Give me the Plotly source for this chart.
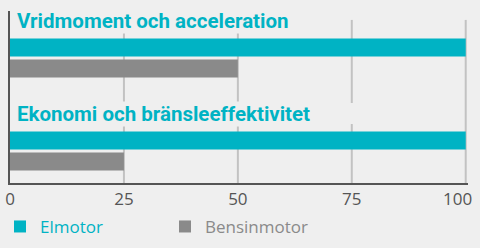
import plotly.graph_objects as go

categories = ["Vridmoment och acceleration", "Ekonomi och bränsleeffektivitet"]
series_names = ["Elmotor", "Bensinmotor"]
elmotor = [100, 100]
bensinmotor = [50, 25]
tick_vals = [0, 25, 50, 75, 100]

CYAN = "#00b3c4"
GRAY = "#8a8a8a"
BG = "#efefef"
AXIS = "#555555"
GRID = "#c2c2c2"

fig = go.Figure()
for name, vals, col in zip(series_names, [elmotor, bensinmotor], [CYAN, GRAY]):
    fig.add_trace(go.Bar(
        y=categories, x=vals, orientation="h",
        name=f'<span style="color:{col}">{name}</span>',
        marker=dict(color=col, line=dict(width=0)),
        hoverinfo="skip",
    ))

shapes = []
for v in tick_vals[1:]:
    if v == tick_vals[-1]:
        segs = [(-0.409, 1.344)]
    else:
        segs = [(-0.409, 0.484), (0.71, 1.344)]
    for y0, y1 in segs:
        shapes.append(dict(type="line", xref="x", yref="y", x0=v, x1=v, y0=y0, y1=y1,
                           line=dict(color=GRID, width=2), layer="below"))

annotations = []
for c in categories:
    annotations.append(dict(
        x=0, y=c, xref="x", yref="y", yshift=37, xshift=6,
        text=f"<b>{c}</b>", showarrow=False, xanchor="left", yanchor="middle",
        font=dict(family="Roboto", size=20.5, color=CYAN),
        bgcolor=BG, borderpad=0,
    ))
# last tick label kept inside the page, as in the reference
annotations.append(dict(
    x=tick_vals[-1], y=0, xref="x", yref="paper", xshift=-8, yshift=-15,
    text=str(tick_vals[-1]), showarrow=False, xanchor="center", yanchor="middle",
    font=dict(family="Open Sans", size=17, color=AXIS),
))

fig.update_layout(
    width=480, height=248,
    margin=dict(l=10, r=12, t=11, b=65, autoexpand=False),
    paper_bgcolor=BG, plot_bgcolor=BG,
    barmode="group", bargap=0.548, bargroupgap=0.143,
    shapes=shapes, annotations=annotations,
    showlegend=True,
    legend=dict(orientation="h", xref="container", yref="container",
                x=0, y=0.085, xanchor="left", yanchor="middle",
                font=dict(family="Open Sans", size=17, color=GRAY),
                entrywidth=120, entrywidthmode="pixels",
                bgcolor="rgba(0,0,0,0)", itemclick=False),
    font=dict(family="Open Sans", size=17, color=AXIS),
)
fig.update_xaxes(range=[0, 100.5], tickvals=tick_vals[:-1], showgrid=False, zeroline=False,
                 showline=True, linecolor=AXIS, linewidth=2, ticks="",
                 ticklabelstandoff=0, ticklabeloverflow="allow", automargin=False,
                 tickfont=dict(family="Open Sans", size=17, color=AXIS), fixedrange=True)
fig.update_yaxes(range=[1.344, -0.505], showticklabels=False, showgrid=False,
                 zeroline=False, showline=True, linecolor=AXIS, linewidth=2,
                 ticks="", fixedrange=True, automargin=False)

fig.write_html("out.html", config={"displayModeBar": False})
